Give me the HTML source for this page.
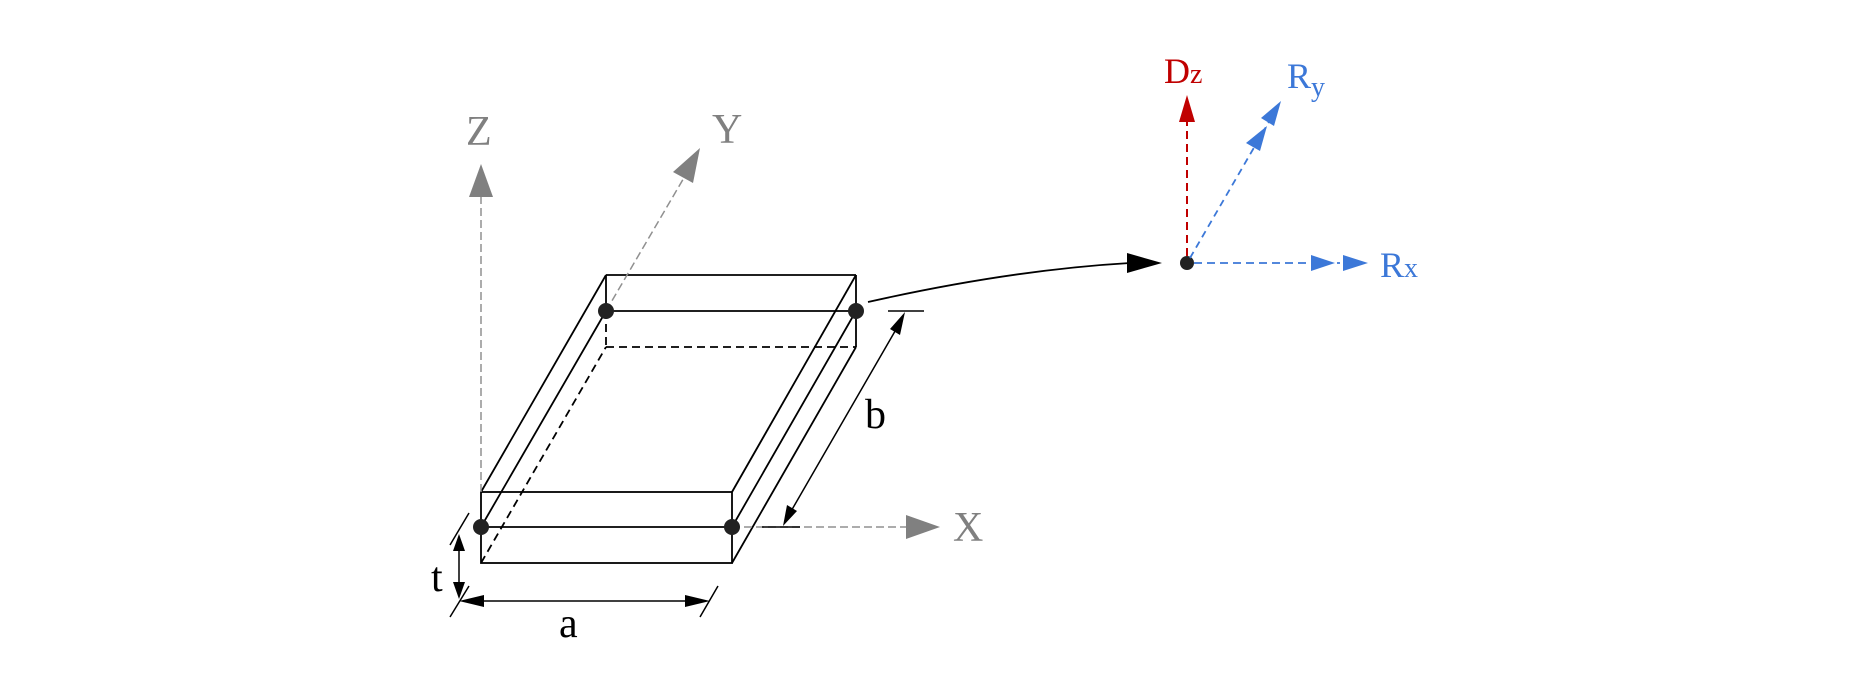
<!DOCTYPE html>
<html><head><style>body{margin:0;background:#fff}svg{display:block}text{font-family:"Liberation Serif",serif}</style></head>
<body>
<svg width="1850" height="691" viewBox="0 0 1850 691" xmlns="http://www.w3.org/2000/svg">
<g fill="none" stroke="#000" stroke-width="1.8">
<rect x="481" y="492" width="251" height="71"/>
<line x1="481" y1="527" x2="732" y2="527"/>
<line x1="606" y1="275" x2="856" y2="275"/>
<line x1="606" y1="311" x2="856" y2="311"/>
<line x1="606" y1="275" x2="606" y2="311"/>
<line x1="856" y1="275" x2="856" y2="347"/>
<line x1="606" y1="311" x2="606" y2="347" stroke-dasharray="8,5"/>
<line x1="606" y1="347" x2="856" y2="347" stroke-dasharray="8,5"/>
<line x1="481" y1="492" x2="606" y2="275"/>
<line x1="481" y1="527" x2="606" y2="311"/>
<line x1="481" y1="563" x2="606" y2="347" stroke-dasharray="8,5"/>
<line x1="732" y1="492" x2="856" y2="275"/>
<line x1="732" y1="527" x2="856" y2="311"/>
<line x1="732" y1="563" x2="856" y2="347"/>
</g>
<g stroke="#909090" stroke-width="1.5" stroke-dasharray="8,4" fill="none">
<line x1="481" y1="492" x2="481" y2="196"/>
<line x1="606" y1="311" x2="685" y2="176"/>
<line x1="732" y1="527" x2="908" y2="527"/>
</g>
<g fill="#808080">
<polygon points="481,164 469,197 493,197"/>
<polygon points="700,148 673,172 693,183"/>
<polygon points="940,527 906,515 906,539"/>
</g>
<g fill="#808080" font-size="42">
<text x="466" y="145">Z</text>
<text x="712" y="143">Y</text>
<text x="953" y="541">X</text>
</g>
<g stroke="#000" stroke-width="1.5" fill="none">
<line x1="888" y1="311" x2="924" y2="311"/>
<line x1="762" y1="527" x2="800" y2="527"/>
<line x1="790" y1="513" x2="898" y2="326"/>
<line x1="459" y1="546" x2="459" y2="587"/>
<line x1="450" y1="545" x2="469" y2="513"/>
<line x1="450" y1="617" x2="469" y2="586"/>
<line x1="475" y1="601" x2="690" y2="601"/>
<line x1="700" y1="617" x2="718" y2="586"/>
</g>
<g fill="#000">
<polygon points="905,312 890,329 900,335"/>
<polygon points="783,526 787,505 797,511"/>
<polygon points="459,534 453,551 465,551"/>
<polygon points="459,599 453,582 465,582"/>
<polygon points="459,601 484,595 484,607"/>
<polygon points="710,601 685,595 685,607"/>
</g>
<g font-size="42" fill="#000">
<text x="865" y="428">b</text>
<text x="431" y="591">t</text>
<text x="559" y="637">a</text>
</g>
<g fill="#222">
<circle cx="481" cy="527" r="8"/><circle cx="732" cy="527" r="8"/>
<circle cx="606" cy="311" r="8"/><circle cx="856" cy="311" r="8"/>
<circle cx="1187" cy="263" r="7"/>
</g>
<path d="M868,302 Q1010,270 1130,263" fill="none" stroke="#000" stroke-width="1.8"/>
<polygon points="1162,263 1127,253 1127,273" fill="#000"/>
<line x1="1187" y1="256" x2="1187" y2="120" stroke="#c00000" stroke-width="2" stroke-dasharray="8,5"/>
<polygon points="1187,95 1179,122 1195,122" fill="#c00000"/>
<line x1="1190" y1="258" x2="1270" y2="120" stroke="#3c78d8" stroke-width="1.8" stroke-dasharray="7,5"/>
<polygon points="1281,101 1261,118 1274,126" fill="#3c78d8"/>
<polygon points="1267,126 1246,143 1260,151" fill="#3c78d8"/>
<line x1="1194" y1="263" x2="1340" y2="263" stroke="#3c78d8" stroke-width="1.8" stroke-dasharray="8,5"/>
<polygon points="1368,263 1343,255 1343,271" fill="#3c78d8"/>
<polygon points="1335,263 1311,255 1311,271" fill="#3c78d8"/>
<text x="1164" y="83" font-size="36" fill="#c00000">D<tspan font-size="28">z</tspan></text>
<text x="1287" y="88" font-size="36" fill="#3c78d8">R<tspan font-size="28" dy="8">y</tspan></text>
<text x="1380" y="277" font-size="36" fill="#3c78d8">R<tspan font-size="28">x</tspan></text>
</svg>
</body></html>
